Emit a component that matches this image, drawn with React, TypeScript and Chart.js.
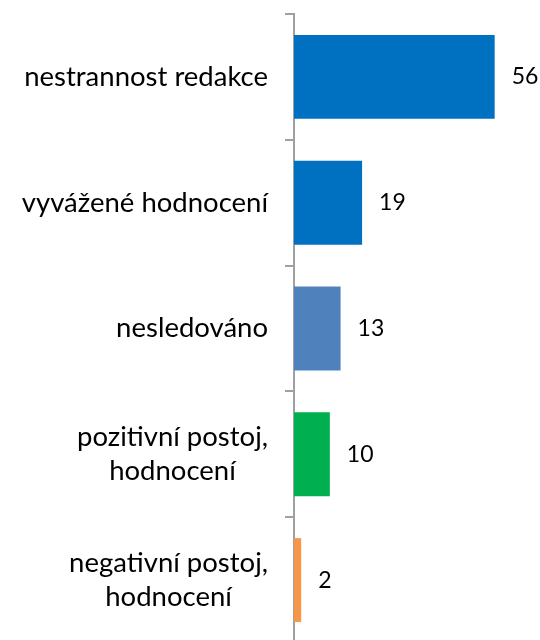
import React, { useEffect, useRef } from "react";
import { Chart, registerables } from "chart.js";

Chart.register(...registerables);

const categories: string[][] = [
  ["nestrannost redakce"],
  ["vyvážené hodnocení"],
  ["nesledováno"],
  ["pozitivní postoj,", "hodnocení"],
  ["negativní postoj,", "hodnocení"],
];
const values: number[] = [56, 19, 13, 10, 2];
const barColors: string[] = ["#0070C0", "#0070C0", "#4F81BD", "#00B050", "#F79646"];

const FONT = "Lato, 'Open Sans', sans-serif";
const CAT_FONT_SIZE = 27.5;
const VAL_FONT_SIZE = 23;
const LINE_H = 34;

const labelPlugin = {
  id: "customLabels",
  afterDraw(chart: any) {
    const ctx = chart.ctx;
    const yScale = chart.scales.y;
    ctx.save();
    ctx.font = `${CAT_FONT_SIZE}px ${FONT}`;
    ctx.fillStyle = "#000000";
    ctx.textBaseline = "middle";
    // category labels: block right-aligned, lines centered
    categories.forEach((lines, i) => {
      const cy = yScale.getPixelForTick(i);
      const widest = Math.max(...lines.map((l) => ctx.measureText(l).width));
      const rightEdge = chart.chartArea.left - 26;
      const cx = rightEdge - widest / 2;
      const startY = cy - ((lines.length - 1) * LINE_H) / 2;
      ctx.textAlign = "center";
      lines.forEach((l, j) => ctx.fillText(l, cx, startY + j * LINE_H));
    });
    // value labels
    ctx.font = `${VAL_FONT_SIZE}px ${FONT}`;
    const meta = chart.getDatasetMeta(0);
    ctx.textAlign = "left";
    meta.data.forEach((bar: any, i: number) => {
      ctx.fillText(String(values[i]), bar.x + 17, bar.y);
    });
    ctx.restore();
  },
};

export default function App() {
  const ref = useRef<HTMLCanvasElement | null>(null);
  useEffect(() => {
    if (!ref.current) return;
    const chart = new Chart(ref.current, {
      type: "bar",
      data: {
        labels: categories.map((c) => c.join(" ")),
        datasets: [
          {
            data: values,
            backgroundColor: barColors,
            borderWidth: 0,
            categoryPercentage: 1,
            barPercentage: 0.667,
          },
        ],
      },
      options: {
        indexAxis: "y",
        animation: false,
        responsive: false,
        maintainAspectRatio: false,
        layout: { padding: { top: 14, right: 31, bottom: 0, left: 0 } },
        plugins: { legend: { display: false }, tooltip: { enabled: false } },
        scales: {
          x: { display: false, min: 0, max: 60 },
          y: {
            afterFit: (scale: any) => {
              scale.width = 294;
            },
            ticks: { display: false },
            grid: {
              offset: true,
              drawOnChartArea: false,
              drawTicks: true,
              tickLength: 9,
              color: "#A0A0A0",
              lineWidth: 2,
            },
            border: { display: true, color: "#A0A0A0", width: 2 },
          },
        },
      },
      plugins: [labelPlugin],
    });
    return () => chart.destroy();
  }, []);
  return (
    <div style={{ position: "fixed", left: 0, top: 0, width: 540, height: 643, background: "#fff" }}>
      <canvas ref={ref} width={540} height={643} style={{ display: "block" }} />
    </div>
  );
}
